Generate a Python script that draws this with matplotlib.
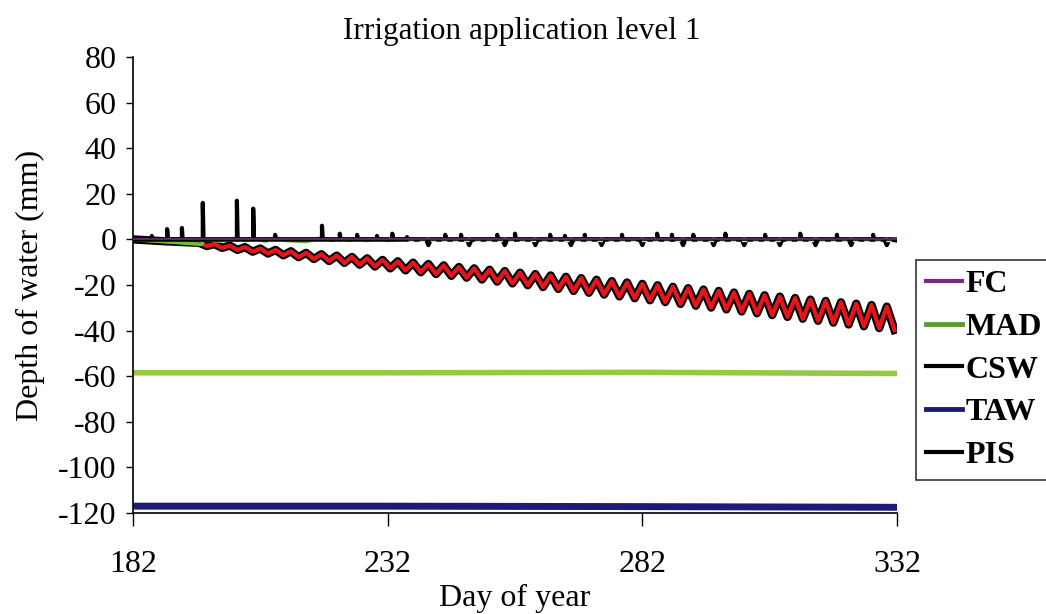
import numpy as np
import matplotlib
matplotlib.use("Agg")
import matplotlib.pyplot as plt
import matplotlib.patheffects as pe

plt.rcParams['font.family'] = ['Liberation Serif', 'DejaVu Serif']
plt.rcParams['axes.unicode_minus'] = False

# ---------------- data ----------------
title = "Irrigation application level 1"
x_ticks = [182, 232, 282, 332]
y_ticks = [-120, -100, -80, -60, -40, -20, 0, 20, 40, 60, 80]

fc_days = [182, 332]
fc_vals = [0, 0]

mad_days = [182, 232, 282, 332]
mad_vals = [-58.5, -58.5, -58.3, -58.8]

taw_days = [182, 232, 282, 332]
taw_vals = [-117.0, -117.0, -117.2, -117.5]

# irrigation spikes (PIS): day, height (mm)
pis_days = [185.7, 188.7, 191.6, 195.7, 202.4, 205.6, 209.9, 219.1, 222.6, 226.0,
            229.9, 232.9, 235.8, 243.3, 246.4, 253.5, 257.0, 263.9, 266.8, 270.7,
            278.0, 284.9, 287.8, 292.0, 298.3, 306.1, 313.0, 320.2, 327.3]
pis_heights = [1.5, 4.5, 5.0, 16.0, 17.0, 13.5, 2.0, 6.0, 2.5, 2.0,
               1.5, 2.5, 1.0, 2.0, 2.0, 2.0, 2.5, 2.0, 1.5, 2.0,
               2.0, 2.5, 2.0, 2.0, 2.5, 2.0, 2.5, 2.0, 2.0]

# CSW: near zero with small dips
csw_days = [182, 239.5, 240, 240.5, 247.5, 248, 248.5, 254.5, 255, 255.5, 260.5, 261, 261.5,
            267.5, 268, 268.5, 273.5, 274, 274.5, 281.5, 282, 282.5, 289.5, 290, 290.5,
            295.5, 296, 296.5, 301.5, 302, 302.5, 308.5, 309, 309.5, 315.5, 316, 316.5,
            322.5, 323, 323.5, 329.5, 330, 330.5, 332]
csw_vals = [0, 0, -2.5, 0, 0, -2.5, 0, 0, -2.5, 0, 0, -2.5, 0,
            0, -2.5, 0, 0, -2.5, 0, 0, -2.5, 0, 0, -2.5, 0,
            0, -2.5, 0, 0, -2.5, 0, 0, -2.5, 0, 0, -2.5, 0,
            0, -2.5, 0, 0, -2.5, 0, -0.5]

# early soil-water trace (green)
green_days = [182, 195.5, 195.8, 199, 202.4, 204, 205.6, 208, 209.9, 212, 216, 219.1,
              221, 222.6, 224.5, 226, 228, 229.9, 232, 234]
green_vals = [0, -2.2, 0, -0.8, 0.5, -0.5, 0.5, -0.8, 0.8, -0.5, -1.0, 0.8,
              -0.5, 0.5, -0.5, 0.5, -0.5, 0.3, -0.5, 0]

# depletion trace (red zigzag)
red_days = [182, 188] + list(np.arange(195, 332, 1.5))
red_vals = [0, -0.8,
            -1.5, -2.9, -2.1, -3.7, -2.7, -4.6, -3.4, -5.4, -4.0, -6.2,
            -4.6, -7.0, -5.2, -7.8, -5.9, -8.6, -6.5, -9.5, -7.1, -10.3,
            -7.7, -11.1, -8.3, -11.9, -9.0, -12.7, -9.6, -13.6, -10.2, -14.4,
            -10.8, -15.2, -11.4, -16.0, -12.1, -16.8, -12.7, -17.6, -13.3, -18.5,
            -13.9, -19.3, -14.6, -20.1, -15.2, -20.9, -15.8, -21.7, -16.4, -22.6,
            -17.0, -23.4, -17.7, -24.2, -18.3, -25.0, -18.9, -25.8, -19.5, -26.7,
            -20.1, -27.5, -20.8, -28.3, -21.4, -29.1, -22.0, -29.9, -22.6, -30.7,
            -23.3, -31.6, -23.9, -32.4, -24.5, -33.2, -25.1, -34.0, -25.7, -34.8,
            -26.4, -35.7, -27.0, -36.5, -27.6, -37.3, -28.2, -38.1, -28.8, -38.9,
            -29.5, -39.7]

legend_labels = ["FC", "MAD", "CSW", "TAW", "PIS"]

# ---------------- figure ----------------
fig = plt.figure(figsize=(10.46, 6.14), dpi=100)
ax = fig.add_axes([133/1046, 1-513/614, (897-133)/1046, (513-57)/614])

# build spike path from data
px, py = [182], [0]
for d, h in zip(pis_days, pis_heights):
    px += [d, d, d + 0.15]
    py += [0, h, 0]
px.append(332); py.append(0)

ax.plot(mad_days, mad_vals, color='#93c947', lw=4, zorder=2)
ax.plot(taw_days, taw_vals, color='#1c1c78', lw=5, zorder=2)
ax.plot(red_days, red_vals, color='#e8141c', lw=3, zorder=3,
        path_effects=[pe.Stroke(linewidth=6, foreground='black'), pe.Normal()])
ax.plot(green_days, green_vals, color='#6cbf3c', lw=2.5, zorder=4)
ax.plot(csw_days, csw_vals, color='black', lw=3, zorder=5)
ax.plot(px, py, color='black', lw=3, zorder=5)
ax.plot(fc_days, fc_vals, color='#7a2a86', lw=1.5, zorder=6, alpha=0.8)
ax.plot([236, 332], [-0.6, -0.6], color='#d8d8d8', lw=1, ls=(0, (4, 4)), zorder=7)

ax.set_xlim(182, 332)
ax.set_ylim(-120, 80)
ax.set_xticks(x_ticks)
ax.set_yticks(y_ticks)
for s in ['top', 'right']:
    ax.spines[s].set_visible(False)
for s in ['left', 'bottom']:
    ax.spines[s].set_linewidth(1.2)
ax.tick_params(axis='y', labelsize=23, length=5, width=1, pad=7)
ax.tick_params(axis='x', labelsize=23, length=9, width=1, pad=18)
ax.set_xlabel("Day of year", fontsize=23, labelpad=3)
ax.set_ylabel("Depth of water (mm)", fontsize=23, labelpad=9)

fig.text(522/1046, 1-31/614, title, fontsize=22.5, ha='center', va='center')

handles = [
    plt.Line2D([], [], color='#7a2a86', lw=3),
    plt.Line2D([], [], color='#5a9a38', lw=3.5),
    plt.Line2D([], [], color='black', lw=3),
    plt.Line2D([], [], color='#1c1c78', lw=3.5),
    plt.Line2D([], [], color='black', lw=3),
]
leg = fig.legend(handles, legend_labels, loc='upper left',
                 bbox_to_anchor=(916/1046, 1-260/614), frameon=True, fancybox=False,
                 edgecolor='black', handlelength=1.15, handletextpad=0.1,
                 labelspacing=0.42, borderpad=0.3, borderaxespad=0,
                 prop={'weight': 'bold', 'size': 23})
leg.get_frame().set_linewidth(1.2)

fig.savefig("out.png", dpi=100)
